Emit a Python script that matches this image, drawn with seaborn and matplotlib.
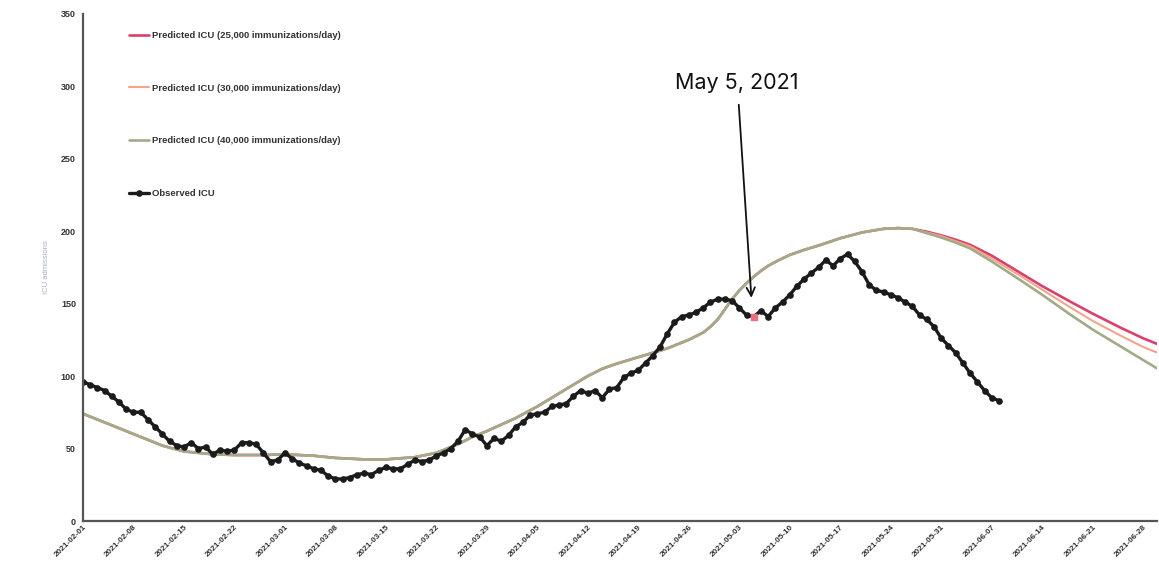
import matplotlib
matplotlib.use("Agg")
import matplotlib.pyplot as plt
import matplotlib.dates as mdates
import numpy as np
import pandas as pd
import seaborn as sns

# ---- data -------------------------------------------------------------
start_date = "2021-02-01"

# Observed ICU census, one value per day from 2021-02-01
observed_icu = [
    96, 94, 92, 90, 86, 82, 77, 75, 75, 70,
    65, 60, 55, 52, 51, 54, 50, 51, 46, 49,
    48, 49, 54, 54, 53, 47, 41, 42, 47, 43,
    40, 38, 36, 35, 31, 29, 29, 30, 32, 33,
    32, 35, 37, 36, 36, 39, 42, 41, 42, 45,
    47, 50, 55, 63, 60, 58, 52, 57, 55, 59,
    65, 68, 73, 74, 75, 79, 80, 81, 86, 90,
    88, 90, 85, 91, 92, 99, 102, 104, 109, 114,
    120, 129, 137, 141, 142, 144, 147, 151, 153, 153,
    152, 147, 142, 141, 145, 141, 147, 151, 156, 162,
    167, 171, 175, 180, 176, 181, 184, 179, 172, 163,
    159, 158, 156, 154, 151, 148, 142, 139, 134, 126,
    121, 116, 109, 102, 96, 90, 85, 83,
]

# Model projections, days since 2021-02-01
pred_days = [0, 4, 7, 11, 14, 18, 21, 25, 28, 32, 35, 39, 42, 46, 49, 52,
             54, 56, 60, 63, 67, 70, 72, 74, 77, 81, 84, 86, 87, 88, 89, 90,
             91, 92, 93, 94, 95, 96.5, 98, 100, 102, 105, 108, 111, 113,
             115, 117, 119, 121, 123, 126, 130, 133, 137, 140, 144, 147, 149]

pred_common = [74, 66, 60, 52, 48, 46, 45.5, 45.5, 46, 45, 43.5, 42.5, 42.5,
               44, 47, 53, 58, 62, 71, 79, 91, 100, 105, 108.5, 113, 119,
               125, 130, 134, 139, 146, 153, 159, 164, 168.5, 172.5, 176,
               180, 183.5, 187, 190, 195, 199, 201.5, 202]

pred_25k_tail = [201.5, 199.5, 197, 194, 190.5, 183, 171, 162, 151, 143,
                 133, 126, 122]
pred_30k_tail = [201.5, 199, 196.5, 193, 189.5, 181, 169, 159.5, 147, 138,
                 127.5, 120, 116]
pred_40k_tail = [201.5, 198.5, 195.5, 192, 188, 179, 166, 156, 142, 132,
                 120, 111, 105]

pred_25k = pred_common + pred_25k_tail
pred_30k = pred_common + pred_30k_tail
pred_40k = pred_common + pred_40k_tail

series_labels = [
    "Predicted ICU (25,000 immunizations/day)",
    "Predicted ICU (30,000 immunizations/day)",
    "Predicted ICU (40,000 immunizations/day)",
    "Observed ICU",
]

y_ticks = [0, 50, 100, 150, 200, 250, 300, 350]
highlight_date = "2021-05-05"
highlight_text = "May 5, 2021"

# ---- frames -----------------------------------------------------------
t0 = pd.Timestamp(start_date)
obs_df = pd.DataFrame({
    "date": pd.date_range(t0, periods=len(observed_icu), freq="D"),
    "icu": observed_icu,
})
pred_dates = t0 + pd.to_timedelta(pred_days, unit="D")
pred_df = pd.DataFrame({
    "date": pred_dates,
    "p25": pred_25k,
    "p30": pred_30k,
    "p40": pred_40k,
})

# ---- figure -----------------------------------------------------------
sns.set_theme(style="white")
plt.rcParams["font.family"] = ["Liberation Sans", "DejaVu Sans"]

fig = plt.figure(figsize=(11.59, 5.75), dpi=100)
ax = fig.add_axes([0.0716, 0.0939, 0.9266, 0.8826])

c25, c30, c40 = "#d9406b", "#f3a48c", "#a2ab88"

sns.lineplot(data=pred_df, x="date", y="p25", ax=ax, color=c25, lw=1.9)
sns.lineplot(data=pred_df, x="date", y="p30", ax=ax, color=c30, lw=1.5)
sns.lineplot(data=pred_df, x="date", y="p40", ax=ax, color=c40, lw=1.9)
sns.lineplot(data=obs_df, x="date", y="icu", ax=ax, color="#1b1b1b", lw=2.4,
             marker="o", markersize=4.8, markeredgewidth=0)

# highlighted observed day
hl = obs_df[obs_df["date"] == pd.Timestamp(highlight_date)]
ax.plot(hl["date"], hl["icu"], "s", color="#e8707f", ms=4, zorder=5)

# ---- axes -------------------------------------------------------------
ax.set_xlim(t0, t0 + pd.Timedelta(days=148.9))
ax.set_ylim(0, 350)
ax.set_yticks(y_ticks)
ax.set_yticklabels([str(v) for v in y_ticks], fontsize=6.5, color="#333333")
ax.set_xticks(pd.date_range(t0, "2021-06-28", freq="7D"))
ax.xaxis.set_major_formatter(mdates.DateFormatter("%Y-%m-%d"))
plt.setp(ax.get_xticklabels(), rotation=45, ha="right", rotation_mode="anchor",
         fontsize=5.9, fontweight="bold", color="#333333")
plt.setp(ax.get_yticklabels(), fontweight="bold")
ax.tick_params(axis="both", length=3, width=1, color="#444444", pad=2)
ax.tick_params(axis="x", direction="in")
ax.set_xlabel("")
ax.set_ylabel("ICU admissions", fontsize=5.5, color="#a8b0c4", labelpad=8)
for side in ("top", "right"):
    ax.spines[side].set_visible(False)
for side in ("left", "bottom"):
    ax.spines[side].set_color("#555555")
    ax.spines[side].set_linewidth(1.6)

# ---- legend -----------------------------------------------------------
handles = ax.get_lines()[:4]
leg = ax.legend(handles, series_labels, loc="upper left",
                bbox_to_anchor=(0.035, 0.982), frameon=False,
                handlelength=2.1, handletextpad=0.3, labelspacing=4.62,
                prop={"size": 6.8, "weight": "bold"})
for txt in leg.get_texts():
    txt.set_color("#333333")

# ---- annotation -------------------------------------------------------
hd = pd.Timestamp(highlight_date)
ax.text(hd - pd.Timedelta(days=2.3), 302, highlight_text, ha="center",
        va="center", fontsize=15.5, color="#111111",
        family=["Inter", "DejaVu Sans"])
ax.annotate("", xy=(hd - pd.Timedelta(days=0.3), 152),
            xytext=(hd - pd.Timedelta(days=2.1), 289),
            arrowprops=dict(arrowstyle="->", color="#111111", lw=1.3,
                            mutation_scale=15))

fig.savefig("out.png", dpi=100)
